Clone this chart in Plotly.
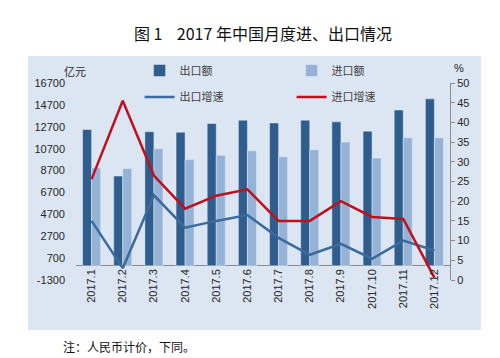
import plotly.graph_objects as go

months = ["2017.1", "2017.2", "2017.3", "2017.4", "2017.5", "2017.6",
          "2017.7", "2017.8", "2017.9", "2017.10", "2017.11", "2017.12"]
export_value = [12450, 8200, 12250, 12200, 13000, 13300, 13050, 13300, 13150, 12300, 14230, 15250]
import_value = [8950, 8880, 10700, 9700, 10100, 10500, 9950, 10600, 11300, 9850, 11700, 11700]
export_growth = [15.0, 3.0, 21.5, 13.3, 15.0, 16.5, 10.7, 6.4, 9.2, 5.4, 10.0, 7.5]
import_growth = [25.6, 45.5, 26.5, 18.1, 21.4, 23.0, 15.0, 15.0, 20.0, 16.0, 15.5, 0.6]

left_ticks = [-1300, 700, 2700, 4700, 6700, 8700, 10700, 12700, 14700, 16700]
right_ticks = [0, 5, 10, 15, 20, 25, 30, 35, 40, 45, 50]

DARK = "#2F5D8E"
LIGHT = "#95B3D7"
LINE_BLUE = "#3C6A9C"
RED = "#C0101E"
PANEL = "#DCE6F2"
FONT = "Liberation Sans"
CJK = "Noto Sans CJK SC"

fig = go.Figure()
fig.add_trace(go.Bar(x=months, y=export_value, name="出口额", marker_color=DARK,
                     legend="legend"))
fig.add_trace(go.Bar(x=months, y=import_value, name="进口额", marker_color=LIGHT,
                     legend="legend"))
fig.add_trace(go.Scatter(x=months, y=export_growth, name="出口增速", mode="lines",
                         line=dict(color=LINE_BLUE, width=2.5), yaxis="y2", legend="legend2"))
fig.add_trace(go.Scatter(x=months, y=import_growth, name="进口增速", mode="lines",
                         line=dict(color=RED, width=2.5), yaxis="y2", legend="legend2"))

fig.update_layout(
    width=500, height=358,
    paper_bgcolor="white", plot_bgcolor="rgba(0,0,0,0)",
    margin=dict(l=68, r=58, t=75, b=86),
    barmode="group", bargap=0.42, bargroupgap=0,
    font=dict(family=FONT, size=11, color="#404040"),
    xaxis=dict(tickangle=-90, showgrid=False, showline=False, ticks="",
               anchor="free", position=14/197,
               tickfont=dict(family=FONT, size=11, color="#262626"), automargin=False),
    yaxis=dict(range=[-1300, 16700], tickvals=left_ticks,
               ticktext=[str(v) for v in left_ticks], showgrid=False,
               zeroline=True, zerolinecolor="#8C8C8C", zerolinewidth=1,
               showline=False, ticks="", ticklabelstandoff=10,
               tickfont=dict(family=FONT, size=11, color="#262626"),
               automargin=False),
    yaxis2=dict(range=[0, 50], tickvals=right_ticks, overlaying="y", side="right",
                showgrid=False, zeroline=False, showline=True, linecolor="#8C8C8C",
                ticks="outside", ticklen=4, tickcolor="#8C8C8C",
                tickfont=dict(family=FONT, size=11, color="#262626"), automargin=False),
    legend=dict(orientation="h", x=0.17, y=0.99, xanchor="left", yanchor="bottom",
                entrywidth=107, bgcolor="rgba(0,0,0,0)",
                font=dict(family=CJK, size=11, color="#404040"), itemwidth=30),
    legend2=dict(orientation="h", x=0.17, y=0.855, xanchor="left", yanchor="bottom",
                 entrywidth=107, bgcolor="rgba(0,0,0,0)",
                 font=dict(family=CJK, size=11, color="#404040"), itemwidth=30),
    shapes=[dict(type="rect", xref="paper", yref="paper", layer="below",
                 x0=-48/374, x1=(473-68)/374, y0=-(322-272)/197, y1=(272-48)/197,
                 fillcolor=PANEL, line=dict(width=0))],
    annotations=[
        dict(text="图 1    2017 年中国月度进、出口情况", xref="paper", yref="paper",
             x=(255-68)/374, y=(272-25)/197, showarrow=False,
             font=dict(family=CJK, size=16, color="#111111"), xanchor="center", yanchor="middle"),
        dict(text="亿元", xref="paper", yref="paper", x=(67-68)/374, y=(272-63)/197,
             showarrow=False, font=dict(family=CJK, size=11, color="#262626"),
             xanchor="center", yanchor="middle", borderpad=0),
        dict(text="%", xref="paper", yref="paper", x=(451-68)/374, y=(272-60)/197,
             showarrow=False, font=dict(family=FONT, size=11, color="#262626"),
             xanchor="center", yanchor="middle"),
        dict(text="注：人民币计价，下同。", xref="paper", yref="paper", x=(53-68)/374,
             y=(272-338)/197, showarrow=False,
             font=dict(family=CJK, size=12, color="#111111"), xanchor="left", yanchor="middle"),
    ],
)

fig.write_html("out.html")
